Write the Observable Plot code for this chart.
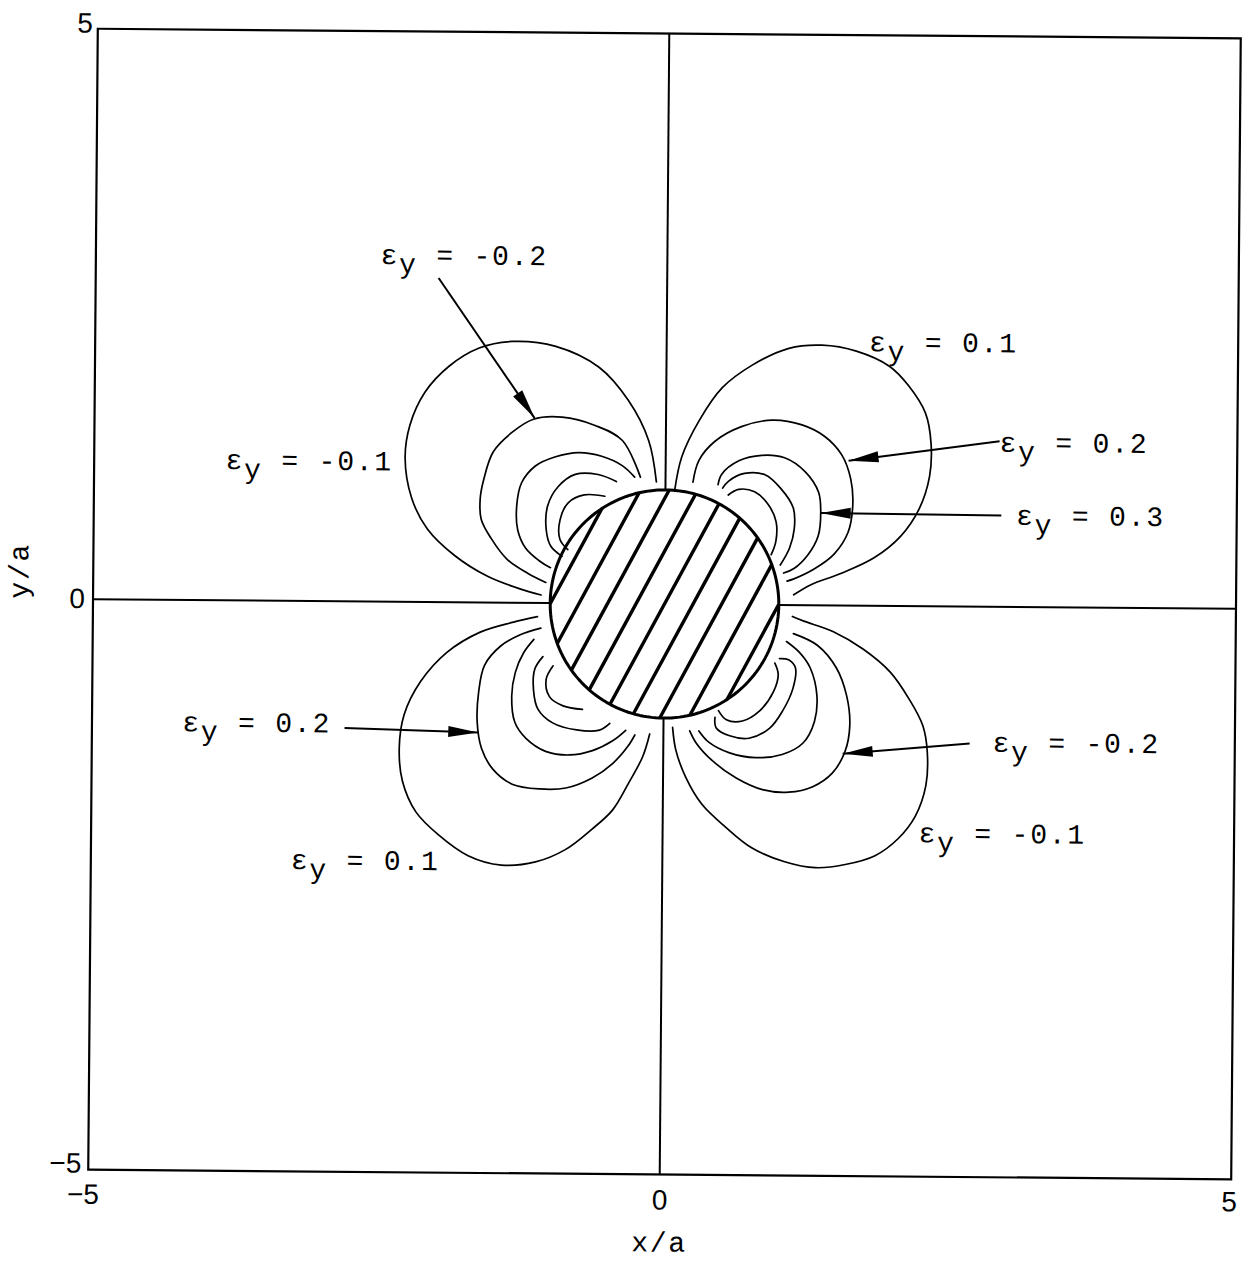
<!DOCTYPE html>
<html>
<head>
<meta charset="utf-8">
<script src="https://cdn.jsdelivr.net/npm/d3@7"></script>
<script src="https://cdn.jsdelivr.net/npm/@observablehq/plot@0.6"></script>
<style>
  html, body { margin: 0; padding: 0; background: #fff; }
  #chart svg { display: block; }
</style>
</head>
<body>
<div id="chart"></div>
<script>
// Strain component ε_y around a circular inclusion of radius a (coordinates in units of a).

// Axis ticks
const xTicks = [-5, 0, 5];
const yTicks = [-5, 0, 5];

// Contour lines, one array per lobe: level and traced (x/a, y/a) points
const lobeUpperLeft = [
  {level: -0.1, pts: [[-0.08,1.07],[-0.15,1.43],[-0.33,1.78],[-0.59,2.07],[-0.97,2.25],[-1.35,2.29],[-1.64,2.23],[-1.90,2.07],[-2.11,1.84],[-2.24,1.55],[-2.28,1.26],[-2.22,0.91],[-2.08,0.64],[-1.84,0.41],[-1.55,0.23],[-1.26,0.12],[-1.08,0.07]]},
  {level: -0.2, pts: [[-0.22,1.11],[-0.38,1.43],[-0.62,1.56],[-0.91,1.63],[-1.16,1.61],[-1.35,1.49],[-1.51,1.32],[-1.59,1.08],[-1.62,0.91],[-1.61,0.73],[-1.52,0.56],[-1.38,0.38],[-1.20,0.26],[-1.04,0.18]]},
  {level: -0.3, pts: [[-0.27,1.11],[-0.38,1.21],[-0.56,1.29],[-0.76,1.32],[-0.97,1.28],[-1.14,1.20],[-1.26,1.05],[-1.30,0.85],[-1.29,0.64],[-1.22,0.48],[-1.10,0.37],[-1.00,0.31]]},
  {level: -0.4, pts: [[-0.43,1.07],[-0.59,1.13],[-0.79,1.13],[-0.94,1.02],[-1.03,0.85],[-1.04,0.64],[-1.00,0.50],[-0.90,0.41]]},
  {level: -0.5, pts: [[-0.53,0.94],[-0.71,0.95],[-0.85,0.88],[-0.92,0.73],[-0.92,0.56],[-0.85,0.47]]}
];
const lobeUpperRight = [
  {level: 0.1, pts: [[0.08,0.99],[0.14,1.29],[0.29,1.61],[0.49,1.90],[0.75,2.10],[1.07,2.25],[1.36,2.28],[1.66,2.23],[1.95,2.10],[2.12,1.93],[2.27,1.69],[2.32,1.43],[2.31,1.14],[2.22,0.85],[2.06,0.61],[1.83,0.42],[1.54,0.28],[1.28,0.18],[1.13,0.09]]},
  {level: 0.2, pts: [[0.24,1.07],[0.29,1.26],[0.43,1.43],[0.66,1.56],[0.93,1.62],[1.19,1.58],[1.39,1.48],[1.54,1.32],[1.62,1.11],[1.64,0.88],[1.60,0.64],[1.48,0.45],[1.31,0.32],[1.13,0.23],[1.07,0.21]]},
  {level: 0.3, pts: [[0.46,1.05],[0.49,1.14],[0.64,1.26],[0.84,1.31],[1.04,1.29],[1.22,1.17],[1.34,0.99],[1.36,0.81],[1.34,0.61],[1.25,0.44],[1.13,0.32],[1.04,0.28]]},
  {level: 0.4, pts: [[0.50,1.02],[0.55,1.08],[0.69,1.15],[0.87,1.14],[1.01,1.02],[1.12,0.85],[1.13,0.67],[1.09,0.50],[1.01,0.35]]},
  {level: 0.5, pts: [[0.55,0.96],[0.64,1.01],[0.78,0.99],[0.90,0.88],[0.97,0.73],[0.97,0.56],[0.93,0.44]]}
];
const lobeLowerLeft = [
  {level: 0.1, pts: [[-1.11,-0.12],[-1.32,-0.17],[-1.61,-0.26],[-1.90,-0.44],[-2.13,-0.70],[-2.27,-0.99],[-2.31,-1.28],[-2.28,-1.57],[-2.16,-1.84],[-1.96,-2.04],[-1.70,-2.22],[-1.41,-2.30],[-1.11,-2.27],[-0.85,-2.16],[-0.62,-1.98],[-0.44,-1.81],[-0.30,-1.57],[-0.18,-1.34],[-0.12,-1.14]]},
  {level: 0.2, pts: [[-1.08,-0.22],[-1.26,-0.28],[-1.43,-0.38],[-1.57,-0.55],[-1.62,-0.79],[-1.63,-1.05],[-1.59,-1.28],[-1.49,-1.46],[-1.32,-1.59],[-1.08,-1.63],[-0.85,-1.62],[-0.62,-1.53],[-0.44,-1.40],[-0.31,-1.25],[-0.25,-1.15]]},
  {level: 0.3, pts: [[-1.14,-0.32],[-1.23,-0.44],[-1.30,-0.61],[-1.33,-0.82],[-1.30,-1.05],[-1.20,-1.19],[-1.03,-1.30],[-0.82,-1.33],[-0.62,-1.29],[-0.44,-1.20],[-0.33,-1.11]]},
  {level: 0.4, pts: [[-1.06,-0.47],[-1.13,-0.58],[-1.14,-0.76],[-1.10,-0.93],[-0.97,-1.05],[-0.76,-1.11],[-0.56,-1.11],[-0.47,-1.05]]},
  {level: 0.5, pts: [[-0.97,-0.55],[-1.03,-0.67],[-1.00,-0.82],[-0.88,-0.90],[-0.71,-0.93]]}
];
const lobeLowerRight = [
  {level: -0.1, pts: [[0.08,-1.08],[0.11,-1.28],[0.20,-1.52],[0.34,-1.75],[0.55,-1.95],[0.78,-2.13],[1.07,-2.25],[1.34,-2.30],[1.60,-2.27],[1.86,-2.19],[2.06,-2.04],[2.21,-1.84],[2.30,-1.57],[2.31,-1.28],[2.27,-1.05],[2.15,-0.82],[1.98,-0.58],[1.74,-0.38],[1.48,-0.23],[1.22,-0.14],[1.12,-0.10]]},
  {level: -0.2, pts: [[1.13,-0.25],[1.34,-0.35],[1.51,-0.55],[1.60,-0.79],[1.63,-1.05],[1.59,-1.28],[1.48,-1.47],[1.31,-1.59],[1.10,-1.64],[0.87,-1.62],[0.64,-1.52],[0.43,-1.37],[0.29,-1.22],[0.23,-1.11]]},
  {level: -0.3, pts: [[0.31,-1.11],[0.40,-1.21],[0.58,-1.30],[0.81,-1.34],[1.04,-1.31],[1.22,-1.21],[1.32,-1.02],[1.34,-0.79],[1.28,-0.55],[1.19,-0.42],[1.07,-0.32]]},
  {level: -0.4, pts: [[0.45,-0.99],[0.46,-1.08],[0.58,-1.15],[0.75,-1.17],[0.93,-1.08],[1.04,-0.93],[1.13,-0.73],[1.15,-0.55],[1.09,-0.48],[1.01,-0.47]]},
  {level: -0.5, pts: [[0.48,-0.93],[0.55,-1.01],[0.69,-1.02],[0.84,-0.93],[0.96,-0.76],[1.00,-0.61],[0.97,-0.51]]}
];

// Annotations: level text and anchor (x/a, y/a) of the label
const labelLevels = ["-0.2", "-0.1", "0.1", "0.2", "0.3", "0.2", "0.1", "-0.2", "-0.1"];
const labelX = [-2.51, -3.85, 1.77, 2.92, 3.07, -4.21, -3.25, 2.88, 2.24];
const labelY = [2.96, 1.15, 2.23, 1.36, 0.72, -1.15, -2.35, -1.27, -2.07];

// Leader arrows: tail (x1, y1) to head (x2, y2)
const arrowX1 = [-2.00, 2.92, 2.94, -2.79, 2.68];
const arrowY1 = [2.84, 1.45, 0.80, -1.11, -1.20];
const arrowX2 = [-1.15, 1.60, 1.36, -1.62, 1.57];
const arrowY2 = [1.62, 1.27, 0.81, -1.14, -1.30];

// Inclusion radius and hatch pattern
const inclusionRadius = 1;
const hatchAngleDeg = 62;
const hatchSpacing = 0.22;

// ---- derived tables ----
const lobes = [lobeUpperLeft, lobeUpperRight, lobeLowerLeft, lobeLowerRight];
const contourRows = [];
lobes.forEach((lobe, li) => lobe.forEach(c => c.pts.forEach(([x, y]) => contourRows.push({key: `${li}:${c.level}`, x, y}))));

const labels = labelLevels.map((t, i) => ({value: `= ${t}`, x: labelX[i], y: labelY[i]}));
const arrows = arrowX1.map((_, i) => ({x1: arrowX1[i], y1: arrowY1[i], x2: arrowX2[i], y2: arrowY2[i]}));

const circle = d3.range(0, 361, 2).map(t => ({x: inclusionRadius * Math.cos(t * Math.PI / 180), y: inclusionRadius * Math.sin(t * Math.PI / 180)}));
const th = hatchAngleDeg * Math.PI / 180;
const u = [Math.cos(th), Math.sin(th)], n = [Math.sin(th), -Math.cos(th)];
const hatchOffsets = d3.range(-4, 5).map(k => k * hatchSpacing);
const hatch = hatchOffsets.map(d => {
  const h = Math.sqrt(inclusionRadius * inclusionRadius - d * d);
  return {x1: d * n[0] - h * u[0], y1: d * n[1] - h * u[1], x2: d * n[0] + h * u[0], y2: d * n[1] + h * u[1]};
});

// Filled, narrow arrowhead pointing up with its tip at the origin
const arrowHead = {draw(ctx) { ctx.moveTo(0, 0); ctx.lineTo(-5.5, 30); ctx.lineTo(5.5, 30); ctx.closePath(); }};

const mono = "Liberation Mono, DejaVu Sans Mono, monospace";
const sans = "Liberation Sans, Arial, sans-serif";
const charStep = 18.6;
const monoText = {textAnchor: "start", lineAnchor: "bottom", fontFamily: mono, fontSize: 28};
const tickText = d => d < 0 ? `−${-d}` : `${d}`;
const tickFont = {fontFamily: sans, fontSize: 28, text: tickText, lineAnchor: "middle"};

const plot = Plot.plot({
  width: 1249,
  height: 1262,
  marginLeft: 92.5,
  marginRight: 13.5,
  marginTop: 33,
  marginBottom: 88,
  x: {domain: [-5, 5], axis: null},
  y: {domain: [-5, 5], axis: null},
  style: {fontFamily: sans, color: "#000", background: "#fff"},
  marks: [
    // zero lines outside the inclusion
    Plot.ruleY([0], {x1: -5, x2: -inclusionRadius, stroke: "#000", strokeWidth: 2}),
    Plot.ruleY([0], {x1: inclusionRadius, x2: 5, stroke: "#000", strokeWidth: 2}),
    Plot.ruleX([0], {y1: inclusionRadius, y2: 5, stroke: "#000", strokeWidth: 2}),
    Plot.ruleX([0], {y1: -5, y2: -inclusionRadius, stroke: "#000", strokeWidth: 2}),
    // contour lines
    Plot.line(contourRows, {x: "x", y: "y", z: "key", curve: "catmull-rom", stroke: "#000", strokeWidth: 1.7}),
    // inclusion: hatching and boundary
    Plot.link(hatch, {x1: "x1", y1: "y1", x2: "x2", y2: "y2", stroke: "#000", strokeWidth: 3.4}),
    Plot.line(circle, {x: "x", y: "y", stroke: "#000", strokeWidth: 3}),
    // leader arrows
    Plot.link(arrows, {x1: "x1", y1: "y1", x2: "x2", y2: "y2", stroke: "#000", strokeWidth: 2}),
    Plot.dot(arrows, {x: "x2", y: "y2", symbol: arrowHead, r: 10, fill: "#000", stroke: "none",
      rotate: d => Math.atan2(d.x2 - d.x1, d.y2 - d.y1) * 180 / Math.PI}),
    // annotation labels: ε, lowered y, then "= value"
    Plot.text(labels, {x: "x", y: "y", text: () => "ε", ...monoText}),
    Plot.text(labels, {x: "x", y: "y", text: () => "y", dx: charStep, dy: 9, ...monoText}),
    Plot.text(labels, {x: "x", y: "y", text: "value", dx: 3 * charStep, ...monoText}),
    // frame
    Plot.frame({stroke: "#000", strokeWidth: 2.2}),
    // tick labels (end labels pulled slightly inward)
    Plot.text(xTicks, {x: d => d, filter: d => d < 0, frameAnchor: "bottom", dy: 25, dx: -5, ...tickFont}),
    Plot.text(xTicks, {x: d => d, filter: d => d === 0, frameAnchor: "bottom", dy: 26, ...tickFont}),
    Plot.text(xTicks, {x: d => d, filter: d => d > 0, frameAnchor: "bottom", dy: 23, dx: -2, ...tickFont}),
    Plot.text(yTicks, {y: d => d, filter: d => d > 0, frameAnchor: "left", textAnchor: "end", dx: -5, dy: -5, ...tickFont}),
    Plot.text(yTicks, {y: d => d, filter: d => d === 0, frameAnchor: "left", textAnchor: "end", dx: -8, ...tickFont}),
    Plot.text(yTicks, {y: d => d, filter: d => d < 0, frameAnchor: "left", textAnchor: "end", dx: -7, dy: -6, ...tickFont}),
    // axis titles
    Plot.text(["x/a"], {frameAnchor: "bottom", lineAnchor: "bottom", dy: 77, fontFamily: mono, fontSize: 28}),
    Plot.text(["y/a"], {frameAnchor: "left", lineAnchor: "bottom", rotate: -90, dx: -65, fontFamily: mono, fontSize: 28})
  ]
});

// typewriter-like spacing for the monospaced texts
d3.select(plot).selectAll("g").filter(function () {
  const f = this.getAttribute("font-family");
  return f && f.includes("Mono");
}).style("letter-spacing", "1.8px");
plot.style.transform = "rotate(0.48deg)";
plot.style.transformOrigin = "664px 603.5px";
document.getElementById("chart").appendChild(plot);
</script>
</body>
</html>
